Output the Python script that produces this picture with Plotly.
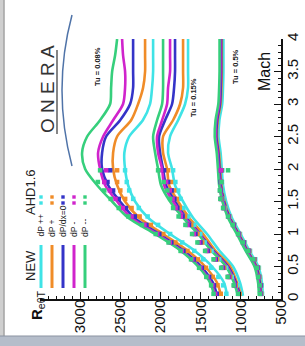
import plotly.graph_objects as go

# ---------------- data (Mach vs Re_thetaT) ----------------
mach = [0.05, 0.25, 0.5, 0.75, 1.0, 1.25, 1.5, 1.75, 2.0, 2.25, 2.5, 2.75, 3.0, 3.25, 3.5, 3.75, 4.0]

# Tu = 0.08 %  (NEW)
tu008_dpmm = [1330, 1383, 1532, 1756, 2067, 2403, 2602, 2789, 2938, 2976, 2913, 2752, 2627, 2615, 2602, 2565, 2540]
tu008_dpm = [1318, 1371, 1520, 1744, 2043, 2366, 2540, 2689, 2752, 2777, 2714, 2590, 2466, 2441, 2441, 2466, 2478]
tu008_dp0 = [1296, 1346, 1495, 1719, 2018, 2329, 2503, 2652, 2727, 2727, 2677, 2503, 2378, 2341, 2341, 2341, 2341]
tu008_dpp = [1246, 1296, 1445, 1669, 1968, 2266, 2441, 2540, 2590, 2590, 2540, 2366, 2279, 2217, 2192, 2192, 2192]
tu008_dppp = [1172, 1209, 1358, 1582, 1881, 2155, 2316, 2403, 2441, 2450, 2390, 2220, 2130, 2105, 2092, 2092, 2092]

# Tu = 0.15 %  (NEW)
tu015_dpmm = [1035, 1085, 1184, 1371, 1533, 1719, 1881, 1993, 2030, 2067, 2092, 2043, 1980, 1968, 1968, 1968, 1968]
tu015_dpm = [1022, 1072, 1172, 1358, 1520, 1694, 1844, 1955, 1980, 2030, 2043, 1980, 1918, 1906, 1881, 1881, 1881]
tu015_dp0 = [1010, 1060, 1159, 1346, 1508, 1682, 1819, 1931, 1968, 2005, 2018, 1943, 1856, 1831, 1819, 1819, 1819]
tu015_dpp = [998, 1047, 1134, 1321, 1470, 1644, 1781, 1893, 1918, 1968, 1968, 1844, 1756, 1719, 1719, 1719, 1719]
tu015_dppp = [973, 1010, 1097, 1271, 1421, 1595, 1719, 1819, 1856, 1906, 1881, 1781, 1694, 1657, 1657, 1657, 1657]

# Tu = 0.5 %  (NEW)
tu05_dpmm = [775, 785, 830, 945, 1050, 1160, 1230, 1270, 1285, 1300, 1325, 1315, 1280, 1270, 1265, 1265, 1265]
tu05_dpm = [765, 775, 820, 935, 1040, 1150, 1220, 1260, 1275, 1290, 1315, 1305, 1270, 1260, 1255, 1255, 1255]
tu05_dp0 = [755, 765, 810, 925, 1030, 1140, 1210, 1250, 1265, 1280, 1305, 1295, 1260, 1250, 1245, 1245, 1245]
tu05_dpp = [747, 757, 802, 917, 1022, 1132, 1202, 1242, 1257, 1272, 1297, 1287, 1252, 1242, 1237, 1237, 1237]
tu05_dppp = [727, 737, 782, 897, 1002, 1112, 1182, 1222, 1237, 1252, 1277, 1267, 1232, 1222, 1217, 1217, 1217]

# AHD1.6 criterion
mach_ahd = [0.08, 0.21, 0.34, 0.48, 0.61, 0.74, 0.87, 1.0, 1.14, 1.27, 1.4, 1.54, 1.67, 1.8, 1.98]

ahd008_dpmm = [1340, 1370, 1430, 1520, 1620, 1750, 1900, 2060, 2230, 2400, 2520, 2620, 2700, 2780, 2752]
ahd008_dpm = [1320, 1355, 1415, 1505, 1605, 1735, 1885, 2040, 2200, 2360, 2470, 2560, 2630, 2700, 2677]
ahd008_dp0 = [1300, 1335, 1395, 1485, 1585, 1715, 1865, 2015, 2175, 2320, 2430, 2520, 2590, 2660, 2627]
ahd008_dpp = [1250, 1290, 1350, 1435, 1535, 1665, 1815, 1965, 2120, 2260, 2360, 2440, 2500, 2540, 2540]
ahd008_dppp = [1180, 1220, 1280, 1370, 1470, 1580, 1730, 1880, 2030, 2160, 2270, 2340, 2390, 2420, 2441]

ahd015_dpmm = [1035, 1090, 1165, 1245, 1340, 1445, 1540, 1607, 1690, 1775, 1843, 1880, 1915, 1960, 2030]
ahd015_dpm = [1030, 1082, 1155, 1233, 1325, 1428, 1520, 1585, 1665, 1748, 1812, 1850, 1885, 1930, 1993]
ahd015_dp0 = [1025, 1075, 1147, 1223, 1313, 1413, 1503, 1565, 1645, 1725, 1790, 1828, 1862, 1905, 1955]
ahd015_dpp = [1015, 1063, 1133, 1207, 1295, 1393, 1480, 1540, 1618, 1695, 1760, 1798, 1830, 1870, 1906]
ahd015_dppp = [1000, 1045, 1112, 1185, 1270, 1365, 1450, 1505, 1580, 1655, 1715, 1750, 1780, 1815, 1843]

ahd05_dpmm = [761, 765, 785, 800, 845, 910, 975, 1035, 1100, 1160, 1221, 1255, 1262, 1240, 1159]
ahd05_dpm = [756, 760, 780, 795, 840, 905, 970, 1030, 1095, 1155, 1216, 1250, 1257, 1245, 1250]
ahd05_dp0 = [751, 755, 775, 790, 835, 900, 965, 1025, 1090, 1150, 1211, 1245, 1252, 1250, 1245]
ahd05_dpp = [746, 750, 770, 785, 830, 895, 960, 1020, 1085, 1145, 1206, 1240, 1247, 1245, 1240]
ahd05_dppp = [736, 740, 760, 775, 820, 885, 950, 1010, 1075, 1135, 1196, 1230, 1237, 1235, 1230]

series_names = ["dP ++", "dP +", "dP/dx=0", "dP -", "dP --"]
colors = ["#3fe3e6", "#f08c28", "#3434c8", "#d024cc", "#36cf7c"]

re_ticks = [500, 1000, 1500, 2000, 2500, 3000]
mach_ticks = [0, 0.5, 1, 1.5, 2, 2.5, 3, 3.5, 4]
mach_ticktext = ["0", "0.5", "1", "1.5", "2", "2.5", "3", "3.5", "4"]

groups_new = [
    [tu008_dppp, tu008_dpp, tu008_dp0, tu008_dpm, tu008_dpmm],
    [tu015_dppp, tu015_dpp, tu015_dp0, tu015_dpm, tu015_dpmm],
    [tu05_dppp, tu05_dpp, tu05_dp0, tu05_dpm, tu05_dpmm],
]
groups_ahd = [
    [ahd008_dppp, ahd008_dpp, ahd008_dp0, ahd008_dpm, ahd008_dpmm],
    [ahd015_dppp, ahd015_dpp, ahd015_dp0, ahd015_dpm, ahd015_dpmm],
    [ahd05_dppp, ahd05_dpp, ahd05_dp0, ahd05_dpm, ahd05_dpmm],
]

# ---------------- figure ----------------
W, H = 305, 346
L, R, T, B = 40, 24, 39, 47
PW, PH = W - L - R, H - T - B


def px(x):
    return (x - L) / PW


def py(y):
    return (H - B - y) / PH


FONT = "Liberation Sans, Arial, sans-serif"
fig = go.Figure()

for grp in groups_new:
    for vals, col, nm in zip(grp, colors, series_names):
        fig.add_trace(go.Scatter(x=vals, y=mach, mode="lines", name=nm,
                                 line=dict(color=col, width=2.6, shape="spline", smoothing=0.8),
                                 showlegend=False))
for grp in groups_ahd:
    for vals, col, nm in zip(grp, colors, series_names):
        fig.add_trace(go.Scatter(x=vals, y=mach_ahd, mode="markers", name=nm,
                                 marker=dict(color=col, size=4.5, symbol="square", line=dict(width=0)),
                                 showlegend=False))

shapes = []
anns = []


def label(text, x, y, size, color="#222222", xa="center", ya="middle"):
    anns.append(dict(text=text, xref="paper", yref="paper", x=px(x), y=py(y), showarrow=False,
                     xanchor=xa, yanchor=ya, textangle=-90,
                     font=dict(size=size, color=color, family=FONT)))


# frame of the picture
shapes.append(dict(type="rect", xref="paper", yref="paper", x0=px(0), x1=px(3.5), y0=py(346), y1=py(0),
                   fillcolor="#cfcfcf", line=dict(width=0), layer="below"))
shapes.append(dict(type="line", xref="paper", yref="paper", x0=px(4), x1=px(4), y0=py(336), y1=py(0),
                   line=dict(color="#8a8a8a", width=1.2)))
shapes.append(dict(type="rect", xref="paper", yref="paper", x0=px(0), x1=px(305), y0=py(346), y1=py(336),
                   fillcolor="#b5bdca", line=dict(width=0), layer="below"))
shapes.append(dict(type="line", xref="paper", yref="paper", x0=px(0), x1=px(305), y0=py(336), y1=py(336),
                   line=dict(color="#8c94a2", width=1.2)))

# ONERA logo
label("O N E R A", 47, 89, 19, "#333333")
shapes.append(dict(type="line", xref="paper", yref="paper", x0=px(57), x1=px(57), y0=py(50), y1=py(134),
                   line=dict(color="#444444", width=1.3)))
shapes.append(dict(type="path", xref="paper", yref="paper",
                   path="M %f,%f Q %f,%f %f,%f" % (px(72), py(15), px(52), py(90), px(72), py(166)),
                   line=dict(color="#4f73a8", width=1.5)))

# legend
label("NEW", 30, 266, 13)
label("AHD1.6", 30, 192, 13)
leg_x = [41, 52, 63, 74, 85]
for lx, col, nm in zip(leg_x, colors, series_names):
    shapes.append(dict(type="line", xref="paper", yref="paper", x0=px(lx), x1=px(lx), y0=py(245), y1=py(288),
                       line=dict(color=col, width=3)))
    for sy in (197, 203):
        shapes.append(dict(type="rect", xref="paper", yref="paper", x0=px(lx - 1.7), x1=px(lx + 1.7),
                           y0=py(sy + 1.7), y1=py(sy - 1.7), fillcolor=col, line=dict(width=0)))
    label(nm, lx, 239, 8.5, ya="bottom")

# Tu labels
for txt, tx, ty in [("Tu = 0.08%", 98, 67), ("Tu = 0.15%", 193, 98), ("Tu = 0.5%", 236, 67)]:
    label("<b>" + txt + "</b>", tx, ty, 7.5)

# axis titles
label("Mach", 264, 72, 16, "#111111")
label("<b>R</b><sub>eθT</sub>", 37, 305, 15, "#111111")

fig.update_layout(
    width=W, height=H,
    margin=dict(l=L, r=R, t=T, b=B, autoexpand=False),
    paper_bgcolor="white", plot_bgcolor="white",
    showlegend=False,
    shapes=shapes, annotations=anns,
    xaxis=dict(range=[3500, 500], tickvals=re_ticks, ticktext=[str(v) for v in re_ticks],
               tickangle=-90, ticks="inside", ticklen=7, tickwidth=1.2, tickcolor="#111111",
               ticklabelstandoff=-7,
               showline=True, linewidth=1.5, linecolor="#111111", showgrid=False, zeroline=False,
               tickfont=dict(size=15, color="#111111", family=FONT),
               minor=dict(ticks="inside", ticklen=3.5, tickwidth=1, tickcolor="#111111", dtick=100, tick0=500,
                          showgrid=False)),
    yaxis=dict(range=[0, 4], side="right", tickvals=mach_ticks, ticktext=mach_ticktext,
               tickangle=-90, ticks="inside", ticklen=7, tickwidth=1.2, tickcolor="#111111",
               ticklabelstandoff=-3,
               showline=True, linewidth=1.5, linecolor="#111111", showgrid=False, zeroline=False,
               tickfont=dict(size=15, color="#111111", family=FONT),
               minor=dict(ticks="inside", ticklen=3.5, tickwidth=1, tickcolor="#111111", dtick=0.1, tick0=0,
                          showgrid=False)),
)

fig.write_html("out.html", config={"displayModeBar": False},
               post_script="document.body.style.margin='0';document.body.style.padding='0';"
                           "document.body.style.overflow='hidden';"
                           "document.documentElement.style.overflow='hidden';")
